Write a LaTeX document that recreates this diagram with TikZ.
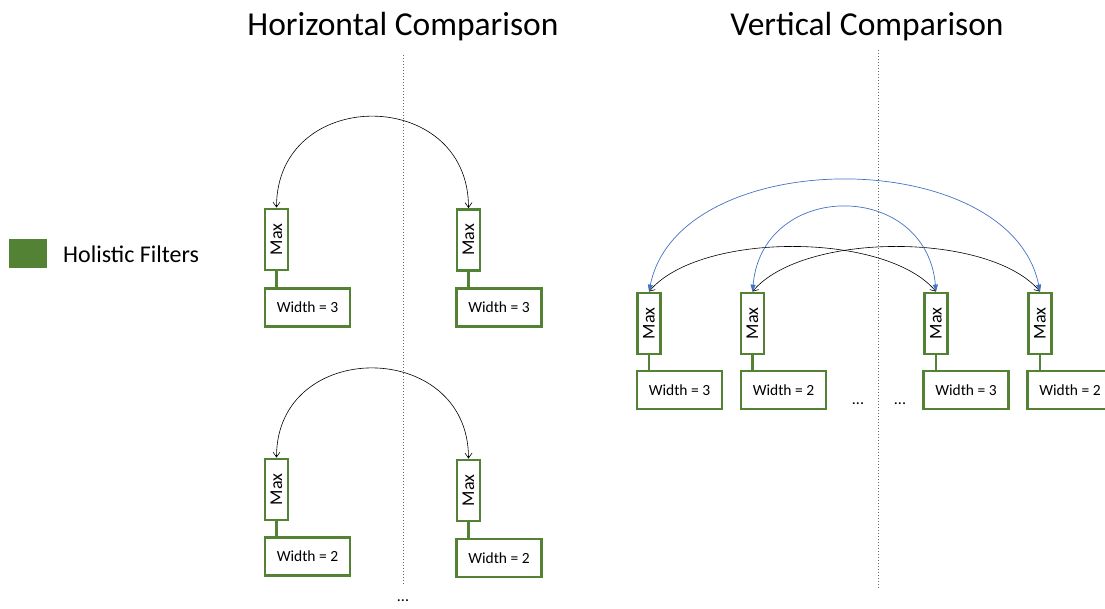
\documentclass[tikz,border=0pt]{standalone}
\usepackage{fontspec}
\setmainfont{Carlito}
\usetikzlibrary{arrows.meta}
\definecolor{gr}{HTML}{548235}
\definecolor{bl}{HTML}{4472C4}
\begin{document}
\begin{tikzpicture}[x=1pt,y=-1pt,
  maxbox/.style={draw=gr,line width=2.8pt,minimum width=23pt,minimum height=61pt,inner sep=0pt,fill=white,font=\fontsize{18}{18}\selectfont},
  wbox/.style={draw=gr,line width=2.8pt,minimum width=85pt,minimum height=38pt,inner sep=0pt,fill=white,font=\fontsize{15.5}{15.5}\selectfont},
  link/.style={draw=gr,line width=2.8pt},
  sep/.style={dotted,line width=1pt,black!60},
  barc/.style={line width=0.6pt,black,{Straight Barb[length=5pt,width=7pt]}-{Straight Barb[length=5pt,width=7pt]}},
  blarc/.style={line width=0.7pt,bl,{Triangle[length=7pt,width=5pt]}-{Triangle[length=7pt,width=5pt]}},
  title/.style={font=\fontsize{33.5}{33.5}\selectfont},
  dots/.style={font=\fontsize{16}{16}\selectfont}
]
\useasboundingbox (0,0) rectangle (1105,609);

% titles
\node[title] (th) at (403,27) {Horizontal Comparison};
\node[title] (tv) at (867,27) {Vertical Comparison};

% legend
\node[fill=gr,minimum width=38pt,minimum height=29pt,inner sep=0pt] (leg) at (28,254) {};
\node[anchor=west,font=\fontsize{24}{24}\selectfont,inner sep=0pt] (legt) at (63,254) {Holistic Filters};

% separators
\coordinate (s1a) at (403,55); \coordinate (s1b) at (403,584);
\coordinate (s2a) at (878,50); \coordinate (s2b) at (878,588);
\draw[sep] (s1a) -- (s1b);
\draw[sep] (s2a) -- (s2b);

% horizontal comparison, top
\node[maxbox] (hm1) at (276.5,239.5) {\rotatebox{90}{Max}};
\node[wbox] (hw1) at (307.5,307.5) {Width = 3};
\node[maxbox] (hm2) at (468.5,240) {\rotatebox{90}{Max}};
\node[wbox] (hw2) at (499,307.5) {Width = 3};
\draw[link] (hm1.south) -- (hm1.south |- hw1.north);
\draw[link] (hm2.south) -- (hm2.south |- hw2.north);
\draw[barc] (hm1.north) .. controls +(0,-122) and +(0,-122) .. (hm2.north);

% horizontal comparison, bottom
\node[maxbox] (hm3) at (276.5,489.5) {\rotatebox{90}{Max}};
\node[wbox] (hw3) at (307.5,556.5) {Width = 2};
\node[maxbox] (hm4) at (468.5,490.5) {\rotatebox{90}{Max}};
\node[wbox] (hw4) at (499,558) {Width = 2};
\draw[link] (hm3.south) -- (hm3.south |- hw3.north);
\draw[link] (hm4.south) -- (hm4.south |- hw4.north);
\draw[barc] (hm3.north) .. controls +(0,-120) and +(0,-120) .. (hm4.north);
\node[dots] (hd) at (403,601) {...};

% vertical comparison
\node[maxbox] (vm1) at (649,323.5) {\rotatebox{90}{Max}};
\node[wbox] (vw1) at (679.5,390) {Width = 3};
\node[maxbox] (vm2) at (752.5,323.5) {\rotatebox{90}{Max}};
\node[wbox] (vw2) at (783.5,390) {Width = 2};
\node[maxbox] (vm3) at (936,323.5) {\rotatebox{90}{Max}};
\node[wbox] (vw3) at (966,390) {Width = 3};
\node[maxbox] (vm4) at (1040,323.5) {\rotatebox{90}{Max}};
\node[wbox] (vw4) at (1070,390) {Width = 2};
\foreach \i in {1,2,3,4}{
  \draw[link] (vm\i.south) -- (vm\i.south |- vw\i.north);
}
\node[dots] (vd1) at (858,404) {...};
\node[dots] (vd2) at (900,404) {...};

% arcs
\draw[barc] (vm1.north) .. controls +(50,-60) and +(-50,-60) .. (vm3.north);
\draw[barc] (vm2.north) .. controls +(50,-60) and +(-50,-60) .. (vm4.north);
\draw[blarc] (vm1.north) .. controls +(30,-148) and +(-30,-148) .. (vm4.north);
\draw[blarc] (vm2.north) .. controls +(10,-112) and +(-10,-112) .. (vm3.north);
\end{tikzpicture}
\end{document}
